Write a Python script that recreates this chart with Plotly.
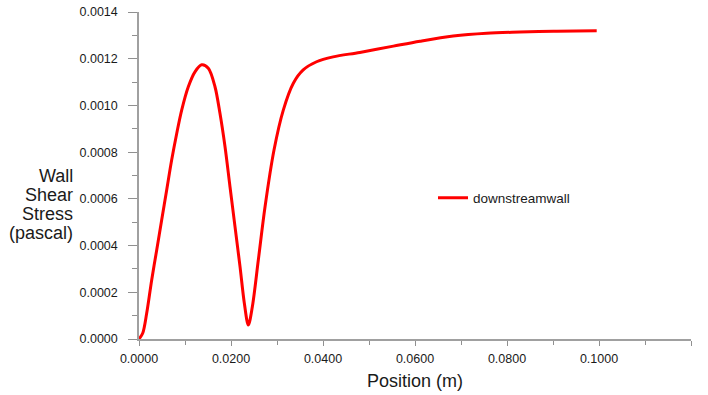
import plotly.graph_objects as go

# Data
position_m = [0, 0.0008, 0.00167, 0.00276, 0.00385, 0.00493, 0.00602, 0.0071, 0.0082,
              0.00928, 0.01072, 0.01217, 0.01362, 0.01507, 0.01652, 0.0176, 0.0187,
              0.01978, 0.02087, 0.02196, 0.0229, 0.02377, 0.02464, 0.02594, 0.0274,
              0.02935, 0.03137, 0.03355, 0.0357, 0.0386, 0.0422, 0.048, 0.0553,
              0.0611, 0.0683, 0.0756, 0.0828, 0.0901, 0.0995]
wall_shear_pa = [0, 0.0000244, 0.00011, 0.000253, 0.000381, 0.000509, 0.000638, 0.000766,
                 0.00088, 0.00098, 0.00108, 0.001144, 0.001174, 0.001159, 0.00108,
                 0.000966, 0.000823, 0.000652, 0.000481, 0.00031, 0.000153, 0.00006,
                 0.000138, 0.000338, 0.000566, 0.000809, 0.00098, 0.001095,
                 0.001152, 0.001187, 0.001208, 0.001227, 0.001254, 0.001275, 0.001297,
                 0.001309, 0.001314, 0.001318, 0.00132]
series_name = "downstreamwall"
y_title_lines = ["Wall", "Shear", "Stress", "(pascal)"]
x_title = "Position (m)"

FONT = "Liberation Sans, Arial, sans-serif"
W, H = 708, 395
L, R, T, B = 139, 17, 12, 56
PH = H - T - B
PW = W - L - R

fig = go.Figure()
fig.add_trace(go.Scatter(
    x=position_m, y=wall_shear_pa, mode="lines", name=series_name,
    line=dict(color="#ff0000", width=3, shape="spline", smoothing=0.9),
))

axis_common = dict(
    showgrid=False, zeroline=False, showline=True, linecolor="#a0a0a0", linewidth=1.5,
    ticks="outside", tickcolor="#909090", tickwidth=1, automargin=False,
    tickfont=dict(family=FONT, size=12.5, color="#1a1a1a"),
)

fig.update_layout(
    width=W, height=H,
    margin=dict(l=L, r=R, t=T, b=B, autoexpand=False),
    paper_bgcolor="white", plot_bgcolor="white",
    font=dict(family=FONT, color="#1a1a1a"),
    showlegend=True,
    legend=dict(x=(433 - L) / PW, y=(339 - 198) / PH, xanchor="left", yanchor="middle",
                font=dict(family=FONT, size=13.5, color="#1a1a1a"),
                bgcolor="rgba(0,0,0,0)", itemwidth=30),
    xaxis=dict(range=[0, 0.12], dtick=0.02, tick0=0, tickformat=".4f", ticklen=5,
               ticklabelstandoff=2,
               minor=dict(dtick=0.01, ticks="outside", ticklen=4, tickcolor="#909090"),
               title=dict(text=x_title, font=dict(family=FONT, size=18, color="#1a1a1a"),
                          standoff=10),
               **axis_common),
    yaxis=dict(range=[0, 0.0014], dtick=0.0002, tick0=0, tickformat=".4f", ticklen=9,
               ticklabelstandoff=8,
               minor=dict(dtick=0.0001, ticks="outside", ticklen=5, tickcolor="#909090"),
               **axis_common),
)

for i, txt in enumerate(y_title_lines):
    py = 176 + 19 * i
    fig.add_annotation(text=txt, xref="paper", yref="paper",
                       x=(75 - L) / PW, y=(339 - py) / PH, xanchor="right", yanchor="middle",
                       showarrow=False, font=dict(family=FONT, size=18, color="#1a1a1a"))

fig.write_html("out.html", config={"displayModeBar": False},
               post_script="document.body.style.margin='0';document.body.style.padding='0';")
